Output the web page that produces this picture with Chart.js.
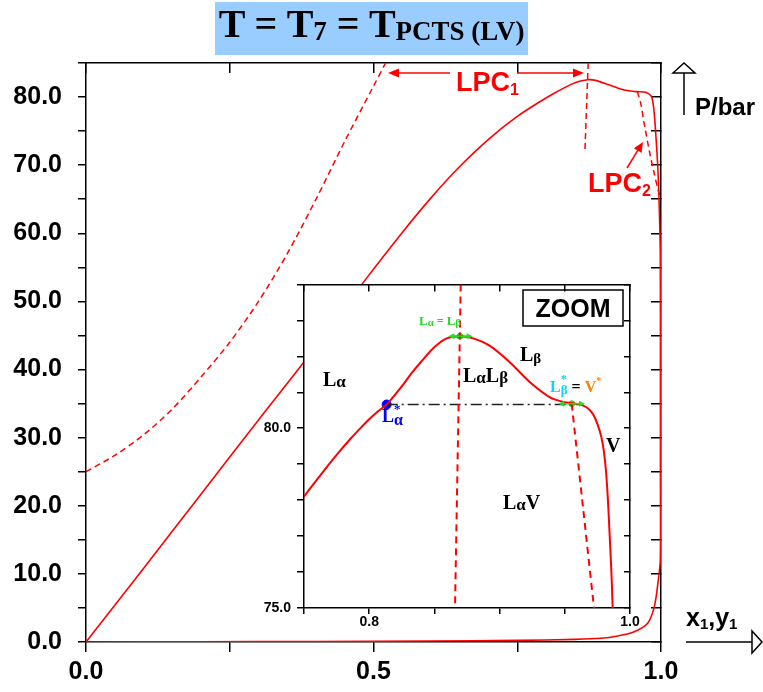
<!DOCTYPE html>
<html>
<head>
<meta charset="utf-8">
<script src="https://cdn.jsdelivr.net/npm/chart.js@4/dist/chart.umd.min.js"></script>
<style>
html,body{margin:0;padding:0;background:#fff;}
#wrap{position:relative;width:763px;height:692px;overflow:hidden;background:#fff;}
#mainChart{position:absolute;left:0;top:0;}
#zoomChart{position:absolute;left:240px;top:270px;}
#title{position:absolute;left:215px;top:2px;width:313px;height:53px;background:#99ccff;}
#title div{position:absolute;left:0;top:2px;width:313px;text-align:center;font:bold 40px "Liberation Serif","Times New Roman",serif;line-height:40px;white-space:nowrap;color:#000;letter-spacing:0px;}
#title span.s{font-size:27px;position:relative;top:3px;}
</style>
</head>
<body>
<div id="wrap">
<canvas id="mainChart" width="763" height="692"></canvas>
<canvas id="zoomChart" width="400" height="370"></canvas>
<div id="title"><div>T = T<span class="s">7</span> = T<span class="s">PCTS (LV)</span></div></div>
</div>
<script>
// ================= DATA =================
// main axes
const xTickValues = [0, 0.5, 1.0];
const xTickLabels = ['0.0', '0.5', '1.0'];
const yTickValues = [0, 10, 20, 30, 40, 50, 60, 70, 80];
const yTickLabels = ['0.0', '10.0', '20.0', '30.0', '40.0', '50.0', '60.0', '70.0', '80.0'];

// phase boundary loop: liquid (bubble) branch up, down the right side, back along vapour (dew) branch
const boundaryX = [0, 0.1, 0.2, 0.3, 0.378, 0.43, 0.486, 0.547, 0.6, 0.65, 0.7, 0.75, 0.79, 0.815, 0.83, 0.845, 0.86, 0.873, 0.886, 0.9094, 0.9326, 0.9559, 0.9733, 0.9826, 0.9855, 0.9884, 0.9913, 0.9942, 0.9959, 0.9976, 0.9988, 0.9990, 0.9990, 0.9988, 0.9953, 0.9884, 0.9768, 0.9535, 0.9245, 0.8955, 0.85, 0.75, 0.6, 0.4, 0.2, 0];
const boundaryP = [0, 10.8, 21.7, 32.6, 41.0, 46.9, 53.2, 59.8, 65.2, 69.8, 73.8, 77.15, 79.35, 80.6, 81.28, 81.9, 82.35, 82.55, 82.45, 81.8, 81.1, 80.8, 80.7, 80.2, 79.46, 77.5, 74.07, 70.1, 66.7, 61.8, 56.9, 40.0, 25.0, 12.06, 9.1, 5.19, 2.75, 1.51, 0.88, 0.54, 0.38, 0.24, 0.15, 0.08, 0.03, 0];

// liquid phase change LPC1 (left dashed branch and upper dashed stub)
const lpc1LeftX = [0, 0.05, 0.1, 0.15, 0.2, 0.25, 0.3, 0.35, 0.4, 0.45, 0.5, 0.521];
const lpc1LeftP = [25.0, 27.4, 30.4, 34.2, 38.9, 44.0, 50.0, 57.0, 65.0, 73.5, 81.6, 85.0];
const lpc1RightX = [0.8734, 0.8676];
const lpc1RightP = [85.0, 71.9];
// LPC2
const lpc2X = [0.959, 0.965, 0.971, 0.9797, 0.9884, 0.997, 1.0];
const lpc2P = [80.8, 79.0, 76.0, 72.1, 68.7, 65.7, 65.0];

// ---- ZOOM inset ----
const zoomXTickValues = [0.8, 1.0];
const zoomXTickLabels = ['0.8', '1.0'];
const zoomYTickValues = [75, 80];
const zoomYTickLabels = ['75.0', '80.0'];
const zoomCurveX = [0.75, 0.758, 0.7655, 0.776, 0.786, 0.7935, 0.8006, 0.807, 0.8134, 0.8236, 0.8330, 0.8403, 0.8505, 0.8594, 0.8696, 0.8798, 0.8926, 0.908, 0.9233, 0.9386, 0.948, 0.954, 0.9600, 0.9642, 0.9685, 0.9718, 0.9752, 0.9780, 0.9800, 0.9816, 0.9830, 0.9841, 0.9851, 0.9860, 0.9867];
const zoomCurveP = [78.10, 78.48, 78.83, 79.30, 79.72, 80.01, 80.27, 80.48, 80.66, 81.10, 81.55, 81.87, 82.27, 82.50, 82.56, 82.50, 82.29, 81.83, 81.28, 80.86, 80.74, 80.70, 80.67, 80.63, 80.53, 80.38, 80.10, 79.76, 79.35, 78.80, 78.05, 77.25, 76.50, 75.75, 75.0];
const zoomLpc1X = [0.8702, 0.8658];
const zoomLpc1P = [84.0, 75.0];
const zoomLpc2X = [0.9553, 0.9640, 0.9724];
const zoomLpc2P = [80.68, 77.79, 75.0];
const tieLineX = [0.8134, 0.962];
const tieLineP = [80.66, 80.66];
const lAlphaStarX = [0.8134];
const lAlphaStarP = [80.66];
const greenPointX = [0.8696, 0.9553];
const greenPointP = [82.56, 80.68];
const greenArrowFromX = [0.8607, 0.945];
const greenArrowToX = [0.8794, 0.9655];

// ================= HELPERS =================
const pts = (xs, ys) => xs.map((x, i) => ({x: x, y: ys[i]}));
const labelFor = (vals, labels) => (v) => {
  const i = vals.findIndex(t => Math.abs(t - v) < 1e-6);
  return i >= 0 ? labels[i] : '';
};
const RED = '#ff0000';
const SANS = '"Liberation Sans", Arial, Helvetica, sans-serif';
const SERIF = '"Liberation Serif", "Times New Roman", serif';

function head(ctx, x1, y1, x2, y2, len, half, fill, color) {
  const a = Math.atan2(y2 - y1, x2 - x1);
  const bx = x2 - len * Math.cos(a), by = y2 - len * Math.sin(a);
  ctx.beginPath();
  ctx.moveTo(x2, y2);
  ctx.lineTo(bx + half * Math.sin(a), by - half * Math.cos(a));
  ctx.lineTo(bx - half * Math.sin(a), by + half * Math.cos(a));
  ctx.closePath();
  if (fill) { ctx.fillStyle = color; ctx.fill(); }
  else { ctx.fillStyle = '#fff'; ctx.fill(); ctx.strokeStyle = color; ctx.stroke(); }
}
function arrow(ctx, x1, y1, x2, y2, color, lw, len, half, fill) {
  const a = Math.atan2(y2 - y1, x2 - x1);
  ctx.save();
  ctx.strokeStyle = color; ctx.lineWidth = lw; ctx.setLineDash([]);
  ctx.beginPath(); ctx.moveTo(x1, y1);
  ctx.lineTo(x2 - len * 0.9 * Math.cos(a), y2 - len * 0.9 * Math.sin(a)); ctx.stroke();
  head(ctx, x1, y1, x2, y2, len, half, fill, color);
  ctx.restore();
}
function rich(ctx, x, y, parts) {
  let cx = x;
  for (const p of parts) {
    ctx.font = p.f; ctx.fillStyle = p.c;
    ctx.fillText(p.t, cx + (p.dx || 0), y + (p.dy || 0));
    if (!p.noAdvance) cx += ctx.measureText(p.t).width + (p.dx || 0);
  }
  return cx;
}

// ================= MAIN CHART =================
const mainAnnot = {
  id: 'mainAnnot',
  afterDraw(chart) {
    const ctx = chart.ctx;
    ctx.save();
    ctx.textBaseline = 'alphabetic';
    ctx.textAlign = 'left';
    // LPC1 label and arrows
    rich(ctx, 456, 91, [
      {t: 'LPC', f: 'bold 27px ' + SANS, c: RED},
      {t: '1', f: 'bold 16px ' + SANS, c: RED, dy: 4}
    ]);
    arrow(ctx, 450, 73, 388, 73, RED, 1.5, 11, 4.5, true);
    arrow(ctx, 517, 73, 584, 73, RED, 1.5, 11, 4.5, true);
    // LPC2 label and arrow
    rich(ctx, 588, 192, [
      {t: 'LPC', f: 'bold 27px ' + SANS, c: RED},
      {t: '2', f: 'bold 16px ' + SANS, c: RED, dy: 4}
    ]);
    arrow(ctx, 627, 168, 643, 142, RED, 1.5, 10, 4.5, true);
    // P/bar axis title with open arrow
    rich(ctx, 695, 115, [{t: 'P/bar', f: 'bold 24px ' + SANS, c: '#000'}]);
    ctx.strokeStyle = '#000'; ctx.lineWidth = 1.5;
    ctx.beginPath(); ctx.moveTo(684, 115); ctx.lineTo(684, 73); ctx.stroke();
    ctx.beginPath(); ctx.moveTo(684, 63); ctx.lineTo(673, 73); ctx.lineTo(695, 73); ctx.closePath();
    ctx.fillStyle = '#fff'; ctx.fill(); ctx.stroke();
    // x1,y1 axis title with open arrow
    rich(ctx, 686, 626, [
      {t: 'x', f: 'bold 25px ' + SANS, c: '#000'},
      {t: '1', f: 'bold 15px ' + SANS, c: '#000', dy: 3},
      {t: ',', f: 'bold 25px ' + SANS, c: '#000'},
      {t: 'y', f: 'bold 25px ' + SANS, c: '#000'},
      {t: '1', f: 'bold 15px ' + SANS, c: '#000', dy: 3}
    ]);
    ctx.beginPath(); ctx.moveTo(686, 642); ctx.lineTo(752, 642); ctx.stroke();
    ctx.beginPath(); ctx.moveTo(762, 642); ctx.lineTo(752, 631); ctx.lineTo(752, 653); ctx.closePath();
    ctx.fillStyle = '#fff'; ctx.fill(); ctx.stroke();
    ctx.restore();
  }
};

const axisFont = {family: SANS, weight: 'bold', size: 25};
new Chart(document.getElementById('mainChart'), {
  type: 'scatter',
  data: {datasets: [
    {data: pts(boundaryX, boundaryP), showLine: true, borderColor: RED, borderWidth: 1.6, pointRadius: 0, tension: 0.3},
    {data: pts(lpc1LeftX, lpc1LeftP), showLine: true, borderColor: RED, borderWidth: 1.5, borderDash: [6, 4], pointRadius: 0, tension: 0.3},
    {data: pts(lpc1RightX, lpc1RightP), showLine: true, borderColor: RED, borderWidth: 1.5, borderDash: [6, 4], pointRadius: 0},
    {data: pts(lpc2X, lpc2P), showLine: true, borderColor: RED, borderWidth: 1.5, borderDash: [6, 4], pointRadius: 0, tension: 0.2}
  ]},
  options: {
    responsive: false, animation: false, devicePixelRatio: 1,
    layout: {padding: 0},
    plugins: {legend: {display: false}, tooltip: {enabled: false}},
    scales: {
      x: {type: 'linear', position: 'bottom', min: 0, max: 1,
        ticks: {stepSize: 0.25, autoSkip: false, maxRotation: 0, color: '#000', font: axisFont, padding: 5,
          callback: labelFor(xTickValues, xTickLabels)},
        grid: {drawOnChartArea: false, tickLength: 10, color: '#000', lineWidth: 1.5},
        border: {display: true, color: '#000', width: 1.5},
        afterFit: s => { s.height = 50; }},
      x2: {type: 'linear', position: 'top', min: 0, max: 1,
        ticks: {stepSize: 0.25, display: false},
        grid: {drawOnChartArea: false, tickLength: -10, color: '#000', lineWidth: 1.5},
        border: {display: true, color: '#000', width: 1.5},
        afterFit: s => { s.height = 63; }},
      y: {type: 'linear', position: 'left', min: 0, max: 85,
        ticks: {stepSize: 5, autoSkip: false, color: '#000', font: axisFont, padding: 16,
          callback: labelFor(yTickValues, yTickLabels)},
        grid: {drawOnChartArea: false, tickLength: 8, color: '#000', lineWidth: 1.5},
        border: {display: true, color: '#000', width: 1.5},
        afterFit: s => { s.width = 86; }},
      y2: {type: 'linear', position: 'right', min: 0, max: 85,
        ticks: {stepSize: 5, display: false},
        grid: {drawOnChartArea: false, tickLength: -10, color: '#000', lineWidth: 1.5},
        border: {display: true, color: '#000', width: 1.5},
        afterFit: s => { s.width = 102; }}
    }
  },
  plugins: [mainAnnot]
});

// ================= ZOOM INSET =================
const OX = 240, OY = 270; // canvas offset on page
const GREEN = '#22dd22';
const zoomAnnot = {
  id: 'zoomAnnot',
  beforeDraw(chart) {
    const a = chart.chartArea, ctx = chart.ctx;
    ctx.save(); ctx.fillStyle = '#fff';
    ctx.fillRect(a.left, a.top, a.right - a.left, a.bottom - a.top);
    ctx.restore();
  },
  afterDatasetsDraw(chart) {
    const ctx = chart.ctx, xs = chart.scales.x, ys = chart.scales.y;
    for (let i = 0; i < greenPointX.length; i++) {
      const py = ys.getPixelForValue(greenPointP[i]);
      const x1 = xs.getPixelForValue(greenArrowFromX[i]);
      const x2 = xs.getPixelForValue(greenArrowToX[i]);
      const xm = xs.getPixelForValue(greenPointX[i]);
      arrow(ctx, xm, py, x1, py, GREEN, 1.5, 6, 3, true);
      arrow(ctx, xm, py, x2, py, GREEN, 1.5, 6, 3, true);
    }
  },
  afterDraw(chart) {
    const ctx = chart.ctx;
    ctx.save();
    ctx.translate(-OX, -OY);
    ctx.textAlign = 'left'; ctx.textBaseline = 'alphabetic';
    const B = (s) => 'bold ' + s + 'px ' + SERIF;
    // ZOOM box
    ctx.strokeStyle = '#000'; ctx.lineWidth = 1.5;
    ctx.strokeRect(523, 290, 100, 36);
    ctx.font = 'bold 25px ' + SANS; ctx.fillStyle = '#000'; ctx.textAlign = 'center';
    ctx.fillText('ZOOM', 573, 317);
    ctx.textAlign = 'left';
    // phase region labels
    rich(ctx, 323, 386, [{t: 'L', f: B(20), c: '#000'}, {t: 'α', f: B(17), c: '#000', dy: 1}]);
    rich(ctx, 463, 382, [{t: 'L', f: B(20), c: '#000'}, {t: 'α', f: B(17), c: '#000', dy: 1},
      {t: 'L', f: B(20), c: '#000'}, {t: 'β', f: B(17), c: '#000', dy: 1}]);
    rich(ctx, 520, 361, [{t: 'L', f: B(20), c: '#000'}, {t: 'β', f: B(15), c: '#000', dy: 2}]);
    rich(ctx, 503, 509, [{t: 'L', f: B(20), c: '#000'}, {t: 'α', f: B(17), c: '#000', dy: 1},
      {t: 'V', f: B(20), c: '#000'}]);
    rich(ctx, 606, 452, [{t: 'V', f: B(20), c: '#000'}]);
    // L*alpha (blue)
    rich(ctx, 382, 422, [{t: 'L', f: B(18), c: '#0000ff'},
      {t: '*', f: B(13), c: '#0000ff', dy: -9, noAdvance: true},
      {t: 'α', f: B(16), c: '#0000ff', dy: 3}]);
    // L*beta = V*
    const CY = '#00d8ff', OR = '#ff7f00';
    rich(ctx, 550, 392, [{t: 'L', f: B(16), c: CY},
      {t: '*', f: B(12), c: CY, dy: -9, noAdvance: true},
      {t: 'β', f: B(13), c: CY, dy: 2},
      {t: ' = ', f: B(16), c: '#000'},
      {t: 'V', f: B(16), c: OR},
      {t: '*', f: B(10), c: OR, dy: -8}]);
    // L alpha = L beta (green)
    rich(ctx, 419, 325, [{t: 'L', f: B(13), c: GREEN}, {t: 'α', f: B(11), c: GREEN, dy: 1},
      {t: ' = ', f: B(12), c: GREEN}, {t: 'L', f: B(13), c: GREEN}, {t: 'β', f: B(11), c: GREEN, dy: 1}]);
    ctx.restore();
  }
};

const zFont = {family: SANS, weight: 'bold', size: 14};
new Chart(document.getElementById('zoomChart'), {
  type: 'scatter',
  data: {datasets: [
    {data: pts(zoomCurveX, zoomCurveP), showLine: true, borderColor: RED, borderWidth: 2, pointRadius: 0, tension: 0.3},
    {data: pts(zoomLpc1X, zoomLpc1P), showLine: true, borderColor: RED, borderWidth: 2, borderDash: [7, 5], pointRadius: 0},
    {data: pts(zoomLpc2X, zoomLpc2P), showLine: true, borderColor: RED, borderWidth: 2, borderDash: [7, 5], pointRadius: 0, tension: 0.2},
    {data: pts(tieLineX, tieLineP), showLine: true, borderColor: '#222', borderWidth: 1.5, borderDash: [11, 4, 2, 4], pointRadius: 0},
    {data: pts(lAlphaStarX, lAlphaStarP), showLine: false, pointRadius: 4.5, pointBackgroundColor: '#0000ff', pointBorderColor: '#0000ff'},
    {data: pts(greenPointX, greenPointP), showLine: false, pointRadius: 3, pointBackgroundColor: GREEN, pointBorderColor: GREEN}
  ]},
  options: {
    responsive: false, animation: false, devicePixelRatio: 1,
    layout: {padding: 0},
    plugins: {legend: {display: false}, tooltip: {enabled: false}},
    scales: {
      x: {type: 'linear', position: 'bottom', min: 0.75, max: 1.0,
        ticks: {stepSize: 0.05, autoSkip: false, maxRotation: 0, color: '#000', font: zFont, padding: 0,
          callback: labelFor(zoomXTickValues, zoomXTickLabels)},
        grid: {drawOnChartArea: false, tickLength: 6, color: '#000', lineWidth: 1.5},
        border: {display: true, color: '#000', width: 1.5},
        afterFit: s => { s.height = 32; }},
      x2: {type: 'linear', position: 'top', min: 0.75, max: 1.0,
        ticks: {stepSize: 0.05, display: false},
        grid: {drawOnChartArea: false, tickLength: -7, color: '#000', lineWidth: 1.5},
        border: {display: true, color: '#000', width: 1.5},
        afterFit: s => { s.height = 11; }},
      y: {type: 'linear', position: 'left', min: 75, max: 84,
        ticks: {stepSize: 1, autoSkip: false, color: '#000', font: zFont, padding: 6,
          callback: labelFor(zoomYTickValues, zoomYTickLabels)},
        grid: {drawOnChartArea: false, tickLength: 7, color: '#000', lineWidth: 1.5},
        border: {display: true, color: '#000', width: 1.5},
        afterFit: s => { s.width = 64; }},
      y2: {type: 'linear', position: 'right', min: 75, max: 84,
        ticks: {stepSize: 1, display: false},
        grid: {drawOnChartArea: false, tickLength: -6, color: '#000', lineWidth: 1.5},
        border: {display: true, color: '#000', width: 1.5},
        afterFit: s => { s.width = 10; }}
    }
  },
  plugins: [zoomAnnot]
});
</script>
</body>
</html>
